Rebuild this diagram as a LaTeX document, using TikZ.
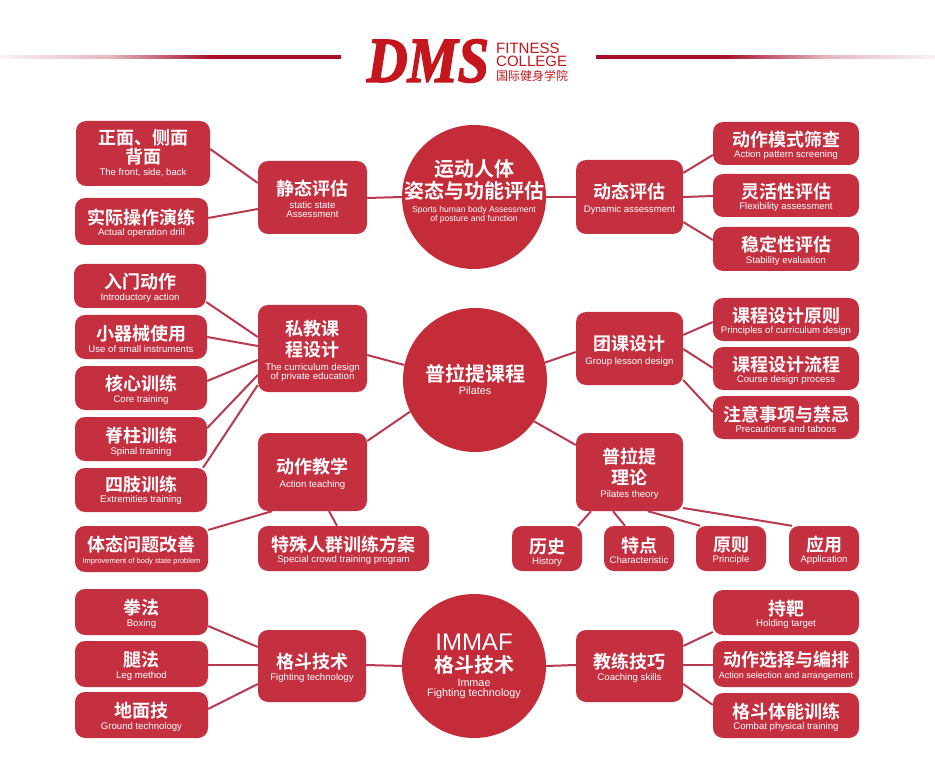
\documentclass[tikz,border=0pt]{standalone}
\usepackage{fontspec}
\setmainfont{Liberation Sans}
\newfontfamily\cjkb{Noto Sans CJK SC Bold}
\newfontfamily\cjkm{Noto Sans CJK SC}
\newfontfamily\logofont[FakeBold=2.5]{Liberation Serif}
\definecolor{boxred}{HTML}{C43040}
\definecolor{circred}{HTML}{C42C3A}
\definecolor{linered}{HTML}{B83A4E}
\definecolor{logored}{HTML}{C4161C}
\definecolor{headred}{HTML}{A8102A}
\colorlet{heada}{headred!5}
\colorlet{headb}{headred!30}
\pgfdeclarehorizontalshading{lfade}{100bp}{color(0bp)=(heada);color(25bp)=(heada);color(41bp)=(headb);color(56bp)=(headred);color(100bp)=(headred)}
\pgfdeclarehorizontalshading{rfade}{100bp}{color(0bp)=(headred);color(44bp)=(headred);color(59bp)=(headb);color(75bp)=(heada);color(100bp)=(heada)}
\newcommand{\zh}[1]{{\fontsize{18}{18}\cjkb #1}}
\newcommand{\zhc}[1]{{\fontsize{20}{20}\cjkb #1}}
\newcommand{\en}[1]{{\fontsize{9.6}{9}\selectfont #1}}
\newcommand{\enc}[1]{{\fontsize{10.8}{9}\selectfont #1}}
\newcommand{\ens}[1]{{\fontsize{8.6}{9}\selectfont #1}}
\newcommand{\enx}[1]{{\fontsize{7.5}{9}\selectfont #1}}
\newcommand{\eny}[1]{{\fontsize{9}{9}\selectfont #1}}
\tikzset{
  boxnode/.style={fill=boxred,rounded corners=10pt,text=white,align=center,inner sep=0pt,font=\fontsize{9}{19}\selectfont},
  circnode/.style={circle,fill=circred,inner sep=0pt,minimum size=144pt},
  circtext/.style={text=white,align=center,inner sep=0pt,font=\fontsize{9}{24}\selectfont},
  conn/.style={draw=linered,line width=2pt},
}
\newcommand{\bx}[6]{%
  \pgfmathsetmacro{\cxa}{(#2+#4)/2}\pgfmathsetmacro{\cya}{(#3+#5)/2}%
  \pgfmathsetmacro{\wwa}{#4-#2}\pgfmathsetmacro{\hha}{#5-#3}%
  \node[boxnode,minimum width=\wwa pt,minimum height=\hha pt] (#1) at (\cxa,\cya) {\rule{0pt}{19pt}#6};}
\begin{document}
\begin{tikzpicture}[x=1pt,y=-1pt]
\useasboundingbox (0,0) rectangle (935,778);
\fill[white] (0,0) rectangle (935,778);
% header
\shade[shading=lfade] (0,56) rectangle (341,59);
\shade[shading=rfade] (596,56) rectangle (935,59);
\node[text=logored,font=\fontsize{64}{64}\logofont\bfseries\itshape,xscale=.88,inner sep=0pt] (logo) at (428,61) {DMS};
\node[text=logored,font=\fontsize{15}{13}\selectfont,anchor=west,align=left,inner sep=0pt] (logotext) at (496,62.5) {FITNESS\\[-0.5pt]COLLEGE\\[1.5pt]{\fontsize{12}{12}\cjkm 国际健身学院}};
% circles
\node[circnode] (c1) at (474,197) {};
\node[circtext] (c1t) at (474,191) {\zhc{运动人体}\\[-2pt]\zhc{姿态与功能评估}\\[-10pt]\ens{Sports human body Assessment}\\[-15pt]\ens{of posture and function}};
\node[circnode] (c2) at (475,380) {};
\node[circtext] (c2t) at (475,379.5) {\zhc{普拉提课程}\\[-11pt]\enc{Pilates}};
\node[circnode] (c3) at (474,666) {};
\node[circtext] (c3t) at (474,666) {{\fontsize{24}{24}\selectfont IMMAF}\\[-2pt]\zhc{格斗技术}\\[-10pt]\enc{Immae}\\[-14pt]\enc{Fighting technology}};
% left top
\bx{a1}{76}{121}{210}{186}{\zh{正面、侧面}\\[0pt]\zh{背面}\\[-7pt]\en{The front, side, back}\rule[-5pt]{0pt}{0pt}}
\bx{a2}{75}{198}{208}{245}{\zh{实际操作演练}\\[-7.25pt]\en{Actual operation drill}}
\bx{a0}{258}{161}{367}{234}{\zh{静态评估}\\[-6pt]\en{static state}\\[-10pt]\en{Assessment}}
% right top
\bx{b0}{576}{160}{683}{234}{\zh{动态评估}\\[-5pt]\en{Dynamic assessment}}
\bx{b1}{713}{122}{859}{165}{\zh{动作模式筛查}\\[-7.25pt]\en{Action pattern screening}}
\bx{b2}{713}{174}{859}{217}{\zh{灵活性评估}\\[-7.25pt]\en{Flexibility assessment}}
\bx{b3}{713}{227}{859}{271}{\zh{稳定性评估}\\[-7.25pt]\en{Stability evaluation}}
% left middle
\bx{d1}{74}{264}{206}{308}{\zh{入门动作}\\[-7.25pt]\en{Introductory action}}
\bx{d2}{75}{315}{207}{359}{\zh{小器械使用}\\[-7.25pt]\en{Use of small instruments}}
\bx{d3}{75}{366}{207}{410}{\zh{核心训练}\\[-7.25pt]\en{Core training}}
\bx{d4}{75}{417}{207}{461}{\rule{0pt}{21pt}\zh{脊柱训练}\\[-7.25pt]\en{Spinal training}}
\bx{d5}{75}{468}{207}{512}{\zh{四肢训练}\\[-7.25pt]\en{Extremities training}\rule[-5pt]{0pt}{0pt}}
\bx{d0}{258}{305}{367}{392}{\zh{私教课}\\[2pt]\zh{程设计}\\[-5pt]\en{The curriculum design}\\[-10pt]\en{of private education}}
\bx{e0}{258}{433}{367}{511}{\zh{动作教学}\\[-5pt]\en{Action teaching}}
\bx{e1}{75}{526}{208}{572}{\zh{体态问题改善}\\[-7.25pt]\enx{Improvement of body state problem}}
\bx{e2}{258}{526}{429}{571}{\zh{特殊人群训练方案}\\[-7.25pt]\en{Special crowd training program}}
% right middle
\bx{f0}{576}{312}{683}{385}{\zh{团课设计}\\[-5pt]\en{Group lesson design}}
\bx{f1}{713}{298}{859}{341}{\zh{课程设计原则}\\[-7.25pt]\en{Principles of curriculum design}}
\bx{f2}{713}{347}{859}{390}{\zh{课程设计流程}\\[-7.25pt]\en{Course design process}}
\bx{f3}{713}{396}{859}{439}{\zh{注意事项与禁忌}\\[-7.25pt]\en{Precautions and taboos}}
\bx{g0}{576}{433}{683}{511}{\zh{普拉提}\\[2pt]\zh{理论}\\[-6pt]\en{Pilates theory}}
\bx{g1}{512}{526}{582}{571}{\rule{0pt}{23pt}\zh{历史}\\[-7.25pt]\en{History}}
\bx{g2}{604}{526}{674}{571}{\zh{特点}\\[-7.25pt]\en{Characteristic}}
\bx{g3}{696}{526}{766}{571}{\zh{原则}\\[-7.25pt]\en{Principle}}
\bx{g4}{789}{526}{859}{571}{\zh{应用}\\[-7.25pt]\en{Application}}
% bottom
\bx{h1}{75}{589}{208}{635}{\zh{拳法}\\[-7.25pt]\en{Boxing}}
\bx{h2}{75}{641}{208}{687}{\zh{腿法}\\[-7.25pt]\en{Leg method}}
\bx{h3}{75}{692}{208}{738}{\zh{地面技}\\[-7.25pt]\en{Ground technology}}
\bx{h0}{258}{630}{366}{702}{\zh{格斗技术}\\[-7.25pt]\en{Fighting technology}}
\bx{i0}{576}{630}{683}{702}{\zh{教练技巧}\\[-7.25pt]\en{Coaching skills}}
\bx{i1}{713}{590}{859}{635}{\zh{持靶}\\[-7.25pt]\en{Holding target}}
\bx{i2}{713}{641}{859}{687}{\zh{动作选择与编排}\\[-7.25pt]\eny{Action selection and arrangement}}
\bx{i3}{713}{693}{859}{738}{\zh{格斗体能训练}\\[-7.25pt]\en{Combat physical training}}
% connectors
\draw[conn] (a1.east |- 0,149) -- (a0.west |- 0,183);
\draw[conn] (a2.east |- 0,218) -- (a0.west |- 0,209);
\draw[conn] (a0.east |- 0,198) -- (c1.180);
\draw[conn] (c1.0) -- (b0.west |- 0,197);
\draw[conn] (b0.east |- 0,173) -- (b1.west |- 0,155);
\draw[conn] (b0.east |- 0,197) -- (b2.west |- 0,196);
\draw[conn] (b0.east |- 0,222) -- (b3.west |- 0,240);
\draw[conn] (d1.east |- 0,302) -- (d0.west |- 0,337);
\draw[conn] (d2.east |- 0,337) -- (d0.west |- 0,346);
\draw[conn] (d3.east |- 0,381) -- (d0.west |- 0,360);
\draw[conn] (d4.east |- 0,428) -- (d0.west |- 0,375);
\draw[conn] (d5.north -| 203,0) -- (d0.west |- 0,385);
\draw[conn] (d0.east |- 0,355) -- (c2.168);
\draw[conn] (e0.east |- 0,441) -- (c2.206);
\draw[conn] (e1.east |- 0,530) -- (e0.south -| 272,0);
\draw[conn] (e0.south -| 329,0) -- (e2.north -| 337,0);
\draw[conn] (c2.14) -- (f0.west |- 0,352);
\draw[conn] (f0.east |- 0,335) -- (f1.west |- 0,322);
\draw[conn] (f0.east |- 0,349) -- (f2.west |- 0,368);
\draw[conn] (f0.east |- 0,380) -- (f3.west |- 0,412);
\draw[conn] (c2.-35) -- (g0.west |- 0,445);
\draw[conn] (g0.south -| 591,0) -- (g1.north -| 578,0);
\draw[conn] (g0.south -| 613,0) -- (g2.north -| 625,0);
\draw[conn] (g0.south -| 648,0) -- (g3.north -| 700,0);
\draw[conn] (g0.east |- 0,508) -- (g4.north -| 792,0);
\draw[conn] (h1.east |- 0,626) -- (h0.west |- 0,647);
\draw[conn] (h2.east |- 0,665) -- (h0.west |- 0,665);
\draw[conn] (h3.east |- 0,709) -- (h0.west |- 0,684);
\draw[conn] (h0.east |- 0,665) -- (c3.180);
\draw[conn] (c3.0) -- (i0.west |- 0,665);
\draw[conn] (i0.east |- 0,646) -- (i1.west |- 0,632);
\draw[conn] (i0.east |- 0,665) -- (i2.west |- 0,665);
\draw[conn] (i0.east |- 0,684) -- (i3.west |- 0,705);
\end{tikzpicture}
\end{document}
